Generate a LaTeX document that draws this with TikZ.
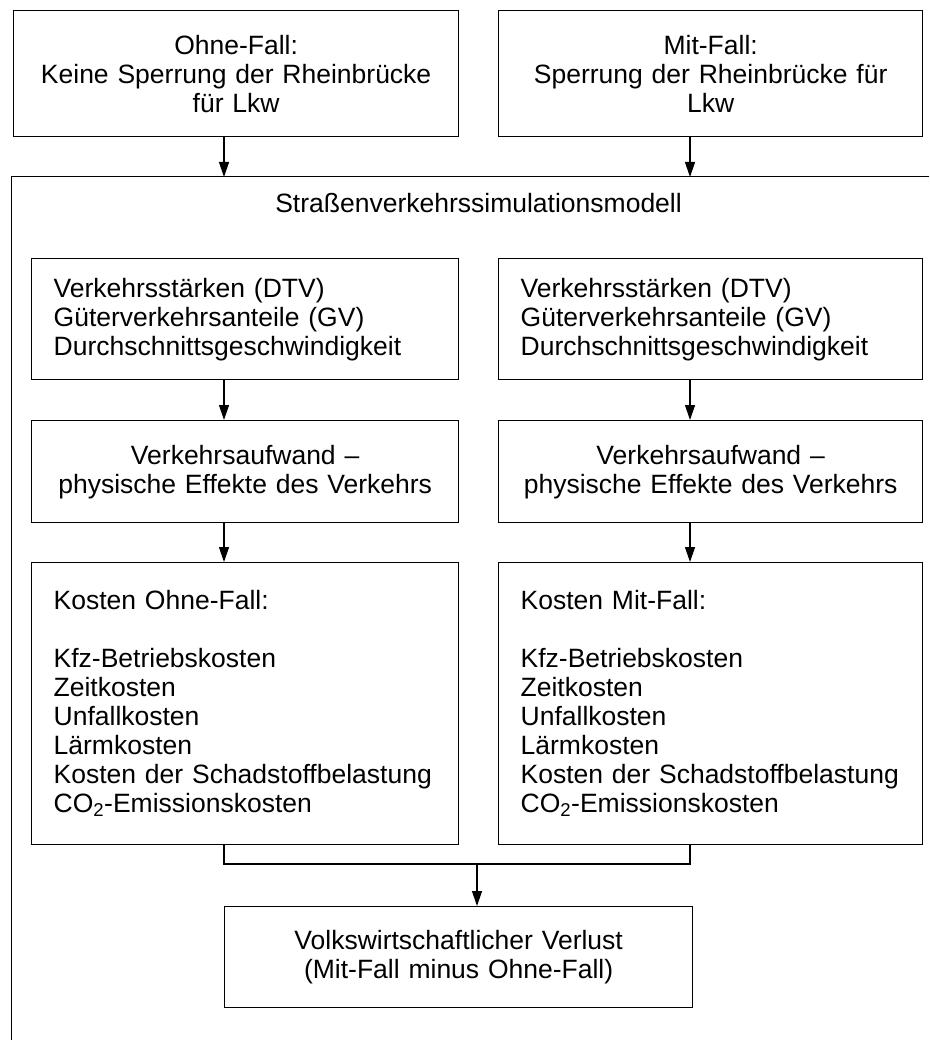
\documentclass[tikz,border=0pt]{standalone}
\usepackage{fontspec}
\setmainfont{Liberation Sans}
\usetikzlibrary{arrows.meta}

\begin{document}
\begin{tikzpicture}[x=1pt, y=-1pt,
  box/.style={draw, line width=1.3pt, inner sep=0pt, anchor=north west,
    font=\fontsize{26.5}{29}\selectfont},
  mittig/.style={box, align=center},
  links/.style={box, align=left, inner xsep=22pt, text width=383pt},
  arr/.style={-{Triangle[length=15pt,width=10pt]}, line width=1.3pt},
  verb/.style={line width=1.3pt}]
  \useasboundingbox (0,0) rectangle (929,1040);
  % top: the two cases
  \node[mittig, minimum width=445pt, minimum height=126pt, text width=445pt] (ohne) at (13,10)
    {Ohne-Fall:\\Keine Sperrung der Rheinbrücke\\für Lkw};
  \node[mittig, minimum width=424pt, minimum height=126pt, text width=424pt] (mit) at (498,10)
    {Mit-Fall:\\Sperrung der Rheinbrücke für\\Lkw};
  % simulation frame (runs off the page)
  \coordinate (rahmen) at (11,177);
  \draw[line width=1pt] (929,177) -- (rahmen) -- (11,1040);
  \node[anchor=base east, inner sep=0pt, font=\fontsize{26.5}{29}\selectfont] (modell) at (682,213)
    {Straßenverkehrssimulationsmodell};
  \coordinate (lx) at (224,0);
  \coordinate (rx) at (690,0);
  % left column: Ohne-Fall
  \node[links, minimum width=427pt, minimum height=121pt] (dtvL) at (31,258)
    {Verkehrsstärken (DTV)\\Güterverkehrsanteile (GV)\\Durchschnittsgeschwindigkeit};
  \node[mittig, minimum width=427pt, minimum height=102pt, text width=427pt] (aufwL) at (31,420)
    {Verkehrsaufwand –\\physische Effekte des Verkehrs};
  \node[links, minimum width=427pt, minimum height=282pt] (kostL) at (31,562)
    {Kosten Ohne-Fall:\\[29pt]Kfz-Betriebskosten\\Zeitkosten\\Unfallkosten\\Lärmkosten\\Kosten der Schadstoffbelastung\\CO\textsubscript{2}-Emissionskosten};
  % right column: Mit-Fall
  \node[links, minimum width=424pt, minimum height=121pt, text width=380pt] (dtvR) at (498,258)
    {Verkehrsstärken (DTV)\\Güterverkehrsanteile (GV)\\Durchschnittsgeschwindigkeit};
  \node[mittig, minimum width=424pt, minimum height=102pt, text width=424pt] (aufwR) at (498,420)
    {Verkehrsaufwand –\\physische Effekte des Verkehrs};
  \node[links, minimum width=424pt, minimum height=282pt, text width=380pt] (kostR) at (498,562)
    {Kosten Mit-Fall:\\[29pt]Kfz-Betriebskosten\\Zeitkosten\\Unfallkosten\\Lärmkosten\\Kosten der Schadstoffbelastung\\CO\textsubscript{2}-Emissionskosten};
  % result
  \node[mittig, minimum width=468pt, minimum height=101pt, text width=468pt] (verlust) at (224,906)
    {Volkswirtschaftlicher Verlust\\(Mit-Fall minus Ohne-Fall)};
  % arrows
  \draw[arr] (ohne.south -| lx) -- (rahmen -| lx);
  \draw[arr] (mit.south -| rx) -- (rahmen -| rx);
  \draw[arr] (dtvL.south -| lx) -- (aufwL.north -| lx);
  \draw[arr] (aufwL.south -| lx) -- (kostL.north -| lx);
  \draw[arr] (dtvR.south -| rx) -- (aufwR.north -| rx);
  \draw[arr] (aufwR.south -| rx) -- (kostR.north -| rx);
  \coordinate (mitte) at (477,864);
  \draw[verb] (kostL.south -| lx) |- (mitte) -| (kostR.south -| rx);
  \draw[arr] (mitte) -- (verlust.north -| mitte);
\end{tikzpicture}
\end{document}
